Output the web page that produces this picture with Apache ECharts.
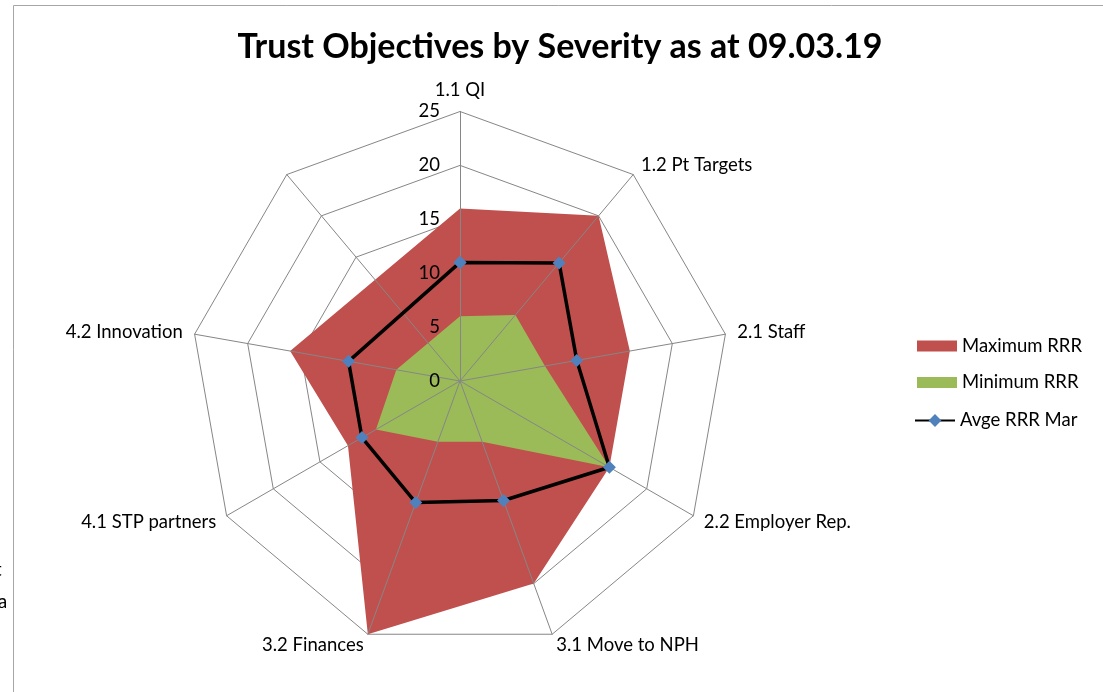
<!DOCTYPE html>
<html>
<head>
<meta charset="utf-8">
<script src="https://cdn.jsdelivr.net/npm/echarts@6/dist/echarts.min.js"></script>
<style>
html,body{margin:0;padding:0;background:#fff;}
#chart{width:1103px;height:692px;}
</style>
</head>
<body>
<div id="chart"></div>
<script>
// ---- data ----
const categories = ['1.1 QI', '1.2 Pt Targets', '2.1 Staff', '2.2 Employer Rep.', '3.1 Move to NPH', '3.2 Finances', '4.1 STP partners', '4.2 Innovation', ''];
const maxRRR = [16, 20, 16, 16, 20, 25, 12, 16, null];
const minRRR = [6, 8, 8, 16, 6, 6, 9, 6, null];
const avgRRR = [11, 14.3, 11, 16, 11.8, 12, 10.5, 10.5, null];
const seriesNames = ['Maximum RRR', 'Minimum RRR', 'Avge RRR Mar'];
const tickMin = 0, tickMax = 25, tickSplit = 5;
const titleText = 'Trust Objectives by Severity as at 09.03.19';

const FONT = 'Lato, "Open Sans", sans-serif';
const FS = 18.5;
const CENTER = [460, 381];
const RADIUS = 269.5;
const GRID = '#868686';

// radar draws indicators counter-clockwise: keep first, reverse the rest
const order = [0].concat(categories.map((_, i) => i).slice(1).reverse());
const indicatorsNamed = order.map(i => ({ name: categories[i], min: tickMin, max: tickMax }));
const indicatorsTop = order.map((i, k) => {
  const ind = { name: categories[i], min: tickMin, max: tickMax };
  if (k === 0) ind.axisLabel = { show: true, showMinLabel: true, showMaxLabel: true };
  return ind;
});

// polar line data: [radius, categoryIndex], closed back to the first category
function polarData(vals) {
  const d = vals.map((v, i) => [v == null ? '-' : v, i]);
  d.push([vals[0], 0]);
  return d;
}

// half of one category band, so that band centres sit on the radar spokes
const bandHalf = 360 / categories.length / 2;

const chart = echarts.init(document.getElementById('chart'), null, { renderer: 'canvas' });
chart.setOption({
  animation: false,
  backgroundColor: '#fff',
  title: {
    text: titleText,
    left: 560, top: 30, textAlign: 'center', padding: 0,
    textStyle: { fontFamily: FONT, fontSize: 34, fontWeight: 'bold', color: '#000' }
  },
  legend: [{
    orient: 'vertical', left: 917, top: 336.5, padding: 0,
    itemWidth: 40, itemHeight: 11, itemGap: 17.5,
    data: [{ name: seriesNames[0], icon: 'rect' }, { name: seriesNames[1], icon: 'rect' }],
    textStyle: { fontFamily: FONT, fontSize: FS, color: '#000' },
    selectedMode: false
  }, {
    orient: 'vertical', left: 914, top: 411, padding: 0,
    itemWidth: 40, itemHeight: 16,
    data: [{ name: seriesNames[2] }],
    textStyle: { fontFamily: FONT, fontSize: FS, color: '#000' },
    selectedMode: false
  }],
  radar: [{
    center: CENTER, radius: RADIUS, startAngle: 90,
    shape: 'polygon', splitNumber: tickSplit,
    indicator: indicatorsNamed,
    nameGap: 12,
    axisName: { color: '#000', fontFamily: FONT, fontSize: FS },
    axisLine: { show: false },
    axisTick: { show: false },
    axisLabel: { show: false },
    splitLine: { lineStyle: { color: GRID, width: 1 } },
    splitArea: { show: false },
    z: 0
  }, {
    center: CENTER, radius: RADIUS, startAngle: 90,
    shape: 'polygon', splitNumber: tickSplit,
    indicator: indicatorsTop,
    axisName: { show: false },
    axisLine: { show: true, lineStyle: { color: GRID, width: 1 } },
    axisTick: { show: false },
    axisLabel: { show: false, color: '#000', fontFamily: FONT, fontSize: FS, margin: 20, padding: [4, 0, 0, 0] },
    splitLine: { show: false },
    splitArea: { show: false },
    z: 3
  }],
  polar: { center: CENTER, radius: RADIUS },
  angleAxis: {
    type: 'category', data: categories, boundaryGap: true,
    startAngle: 90 + bandHalf, clockwise: true,
    axisLine: { show: false }, axisTick: { show: false }, axisLabel: { show: false },
    splitLine: { show: false }
  },
  radiusAxis: {
    type: 'value', min: tickMin, max: tickMax,
    axisLine: { show: false }, axisTick: { show: false }, axisLabel: { show: false },
    splitLine: { show: false }
  },
  series: [{
    name: seriesNames[0], type: 'line', coordinateSystem: 'polar',
    data: polarData(maxRRR), connectNulls: true,
    symbol: 'none', itemStyle: { color: '#C0504D' },
    lineStyle: { width: 0, color: '#C0504D' },
    areaStyle: { color: '#C0504D', opacity: 1 },
    z: 2
  }, {
    name: seriesNames[1], type: 'line', coordinateSystem: 'polar',
    data: polarData(minRRR), connectNulls: true,
    symbol: 'none', itemStyle: { color: '#9BBB59' },
    lineStyle: { width: 0, color: '#9BBB59' },
    areaStyle: { color: '#9BBB59', opacity: 1 },
    z: 2
  }, {
    name: seriesNames[2], type: 'line', coordinateSystem: 'polar',
    data: polarData(avgRRR), connectNulls: true,
    symbol: 'diamond', symbolSize: 13,
    itemStyle: { color: '#4F81BD' },
    lineStyle: { color: '#000', width: 3.5 },
    z: 5
  }],
  graphic: [{
    type: 'rect', silent: true,
    shape: { x: 13.5, y: 5.5, width: 1100, height: 700 },
    style: { fill: 'none', stroke: '#a6a6a6', lineWidth: 1 }
  }, {
    type: 'text', x: -5, y: 561, silent: true,
    style: { text: 't', fontFamily: FONT, fontSize: FS, fill: '#000' }
  }, {
    type: 'text', x: -2, y: 593, silent: true,
    style: { text: 'a', fontFamily: FONT, fontSize: FS, fill: '#000' }
  }]
});
</script>
</body>
</html>
